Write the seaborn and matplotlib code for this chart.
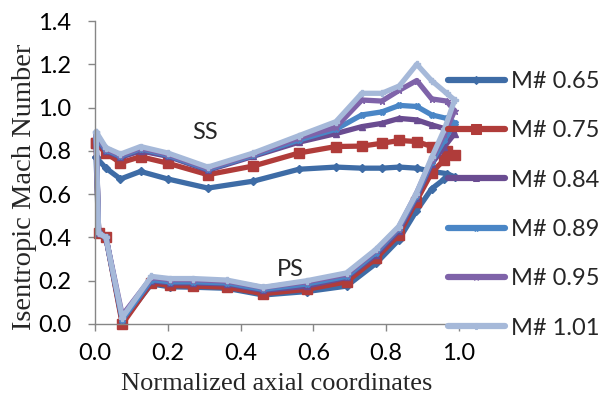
import matplotlib
matplotlib.use("Agg")
import matplotlib.pyplot as plt
import seaborn as sns
import pandas as pd

# Chord-wise stations (normalized axial coordinate)
SS_X = [0.003, 0.03, 0.07, 0.125, 0.2, 0.31, 0.435, 0.56, 0.662, 0.733, 0.788, 0.836, 0.884, 0.925, 0.966, 0.988]
PS_X = [0.01, 0.03, 0.075, 0.155, 0.205, 0.27, 0.362, 0.462, 0.582, 0.691, 0.772, 0.834, 0.882, 0.925, 0.96]

MACH_LABELS = ["M# 0.65", "M# 0.75", "M# 0.84", "M# 0.89", "M# 0.95", "M# 1.01"]

# Suction-side isentropic Mach number, leading edge -> trailing edge
SS_065 = [0.77, 0.72, 0.67, 0.705, 0.67, 0.628, 0.66, 0.715, 0.725, 0.72, 0.72, 0.725, 0.72, 0.705, 0.695, 0.68]
SS_075 = [0.835, 0.79, 0.745, 0.773, 0.743, 0.69, 0.73, 0.79, 0.82, 0.822, 0.835, 0.848, 0.843, 0.82, 0.80, 0.78]
SS_084 = [0.855, 0.80, 0.77, 0.80, 0.775, 0.71, 0.775, 0.84, 0.88, 0.912, 0.927, 0.95, 0.943, 0.92, 0.90, 0.88]
SS_089 = [0.865, 0.805, 0.775, 0.81, 0.78, 0.715, 0.78, 0.85, 0.90, 0.966, 0.98, 1.01, 1.005, 0.966, 0.95, 0.93]
SS_095 = [0.88, 0.81, 0.78, 0.815, 0.785, 0.72, 0.785, 0.86, 0.91, 1.035, 1.03, 1.08, 1.125, 1.04, 1.03, 0.985]
SS_101 = [0.888, 0.815, 0.785, 0.82, 0.79, 0.725, 0.79, 0.87, 0.935, 1.066, 1.066, 1.10, 1.20, 1.124, 1.066, 1.035]

# Pressure-side isentropic Mach number, leading edge -> trailing edge
PS_065 = [0.42, 0.40, 0.01, 0.185, 0.172, 0.17, 0.165, 0.134, 0.15, 0.175, 0.28, 0.388, 0.52, 0.625, 0.67]
PS_075 = [0.42, 0.40, 0.0, 0.19, 0.178, 0.175, 0.17, 0.14, 0.16, 0.195, 0.303, 0.41, 0.565, 0.70, 0.76]
PS_084 = [0.42, 0.40, 0.02, 0.20, 0.19, 0.19, 0.185, 0.155, 0.175, 0.215, 0.32, 0.43, 0.58, 0.74, 0.82]
PS_089 = [0.42, 0.40, 0.02, 0.205, 0.195, 0.195, 0.19, 0.16, 0.185, 0.22, 0.33, 0.44, 0.59, 0.75, 0.85]
PS_095 = [0.42, 0.40, 0.04, 0.215, 0.205, 0.205, 0.198, 0.168, 0.195, 0.23, 0.34, 0.445, 0.60, 0.76, 0.88]
PS_101 = [0.42, 0.40, 0.03, 0.22, 0.21, 0.21, 0.203, 0.17, 0.20, 0.236, 0.345, 0.45, 0.60, 0.77, 0.90]

SS_ALL = [SS_065, SS_075, SS_084, SS_089, SS_095, SS_101]
PS_ALL = [PS_065, PS_075, PS_084, PS_089, PS_095, PS_101]

COLORS = ["#3E6CA6", "#B03C3A", "#6A4C91", "#4A86C6", "#7F63A9", "#A6B9D9"]
MARKERS = ["D", "s", "^", "X", "*", "P"]
MSIZES = [4, 7, 4, 4, 5, 5]

# Each blade profile is traced as one loop: suction side LE->TE,
# pressure side back TE->LE, then closed at the leading edge.
rows = []
for label, ss, ps in zip(MACH_LABELS, SS_ALL, PS_ALL):
    xs = SS_X + PS_X[::-1] + SS_X[:1]
    ys = ss + ps[::-1] + ss[:1]
    for i, (x, y) in enumerate(zip(xs, ys)):
        rows.append({"x": x, "y": y, "series": label, "order": i})
df = pd.DataFrame(rows)

sns.set_style("ticks")
plt.rcParams["font.family"] = ["Lato", "DejaVu Sans"]

fig = plt.figure(figsize=(6.03, 4.05), dpi=100)
ax = fig.add_axes([95 / 603, 1 - 324 / 405, 364 / 603, 303 / 405])

sns.lineplot(
    data=df, x="x", y="y", hue="series", style="series",
    palette=dict(zip(MACH_LABELS, COLORS)),
    markers=dict(zip(MACH_LABELS, MARKERS)),
    dashes=False, sort=False, estimator=None,
    linewidth=3.8, ax=ax, legend=True, clip_on=False,
)
for line, ms, col in zip(ax.get_lines(), MSIZES, COLORS):
    line.set_markersize(ms)
    line.set_markeredgecolor(col)
    line.set_markeredgewidth(1.0)
    line.set_solid_capstyle("round")
    line.set_solid_joinstyle("round")

handles, labels = ax.get_legend_handles_labels()
ax.get_legend().remove()
for h, ms, col in zip(handles, MSIZES, COLORS):
    h.set_linewidth(4.5)
    h.set_markersize(ms)
    h.set_markeredgecolor(col)
    h.set_solid_capstyle("round")

ax.set_xlim(0, 1.0)
ax.set_ylim(0, 1.4)
ax.set_xticks([0.0, 0.2, 0.4, 0.6, 0.8, 1.0])
ax.set_yticks([0.0, 0.2, 0.4, 0.6, 0.8, 1.0, 1.2, 1.4])
ax.xaxis.set_major_formatter(matplotlib.ticker.FormatStrFormatter("%.1f"))
ax.yaxis.set_major_formatter(matplotlib.ticker.FormatStrFormatter("%.1f"))

axis_gray = "#868686"
for side in ["top", "right"]:
    ax.spines[side].set_visible(False)
for side in ["left", "bottom"]:
    ax.spines[side].set_color(axis_gray)
    ax.spines[side].set_linewidth(1.0)
ax.tick_params(axis="both", direction="out", length=5, width=1.0, color=axis_gray,
               labelsize=17, labelcolor="black")
ax.tick_params(axis="y", pad=12)
ax.tick_params(axis="x", pad=9)

ax.set_xlabel("Normalized axial coordinates", family="Liberation Serif", fontsize=19, labelpad=6)
ax.set_ylabel("Isentropic Mach Number", family="Liberation Serif", fontsize=20.5)
ax.yaxis.set_label_coords(-0.16, 0.452)

ax.text(0.302, 0.883, "SS", fontsize=17, ha="center", va="center")
ax.text(0.536, 0.25, "PS", fontsize=17, ha="center", va="center")

fig.legend(
    handles, labels, loc="upper left", bbox_to_anchor=(448 / 603, 1 - 71 / 405),
    frameon=False, fontsize=17, handlelength=2.4, handletextpad=0.25,
    labelspacing=1.2, borderpad=0, borderaxespad=0,
)

fig.savefig("out.png", dpi=100)
